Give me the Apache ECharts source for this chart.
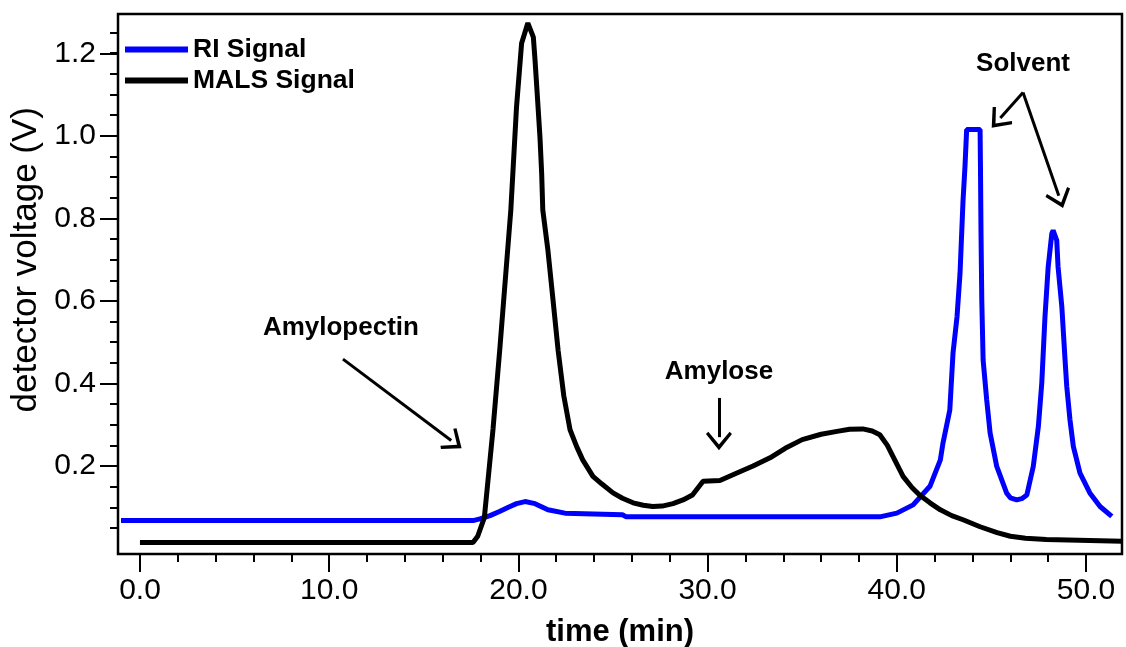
<!DOCTYPE html>
<html>
<head>
<meta charset="utf-8">
<script src="https://cdn.jsdelivr.net/npm/echarts@6/dist/echarts.min.js"></script>
<style>
  html, body { margin: 0; padding: 0; background: #fff; }
  #chart { width: 1126px; height: 647px; }
</style>
</head>
<body>
<div id="chart"></div>
<script>
// RI signal (blue)
var riTime = [-1.0, 17.6, 17.97, 18.5, 19.0, 19.5, 19.9, 20.35, 20.88, 21.56, 22.46, 25.5, 25.7, 39.1, 40.0, 40.86,
  41.75, 42.3, 42.44, 42.8, 42.97, 43.18, 43.34, 43.5, 43.6, 43.69, 44.4, 44.42, 44.45, 44.49, 44.56, 44.75, 44.93,
  45.28, 45.8, 46.0, 46.34, 46.6, 46.87, 47.21, 47.48, 47.66, 47.83, 48.0, 48.19, 48.26, 48.45, 48.52, 48.72, 48.89, 48.98,
  49.15, 49.33, 49.68, 50.2, 50.74, 51.36];
var riSignal = [0.068, 0.068, 0.072, 0.08, 0.09, 0.101, 0.109, 0.114, 0.109, 0.094, 0.086, 0.082, 0.077, 0.077, 0.086, 0.106,
  0.151, 0.215, 0.256, 0.336, 0.474, 0.561, 0.667, 0.844, 0.924, 1.015, 1.015, 0.925, 0.76, 0.602, 0.457, 0.36, 0.28,
  0.199, 0.135, 0.123, 0.118, 0.121, 0.13, 0.199, 0.296, 0.401, 0.562, 0.683, 0.763, 0.771, 0.747, 0.683, 0.586, 0.457, 0.393,
  0.312, 0.247, 0.183, 0.135, 0.102, 0.078];

// MALS signal (black)
var malsTime = [0.0, 17.6, 17.85, 18.2, 18.66, 19.03, 19.6, 19.9, 20.17, 20.5, 20.79, 20.88, 21.0, 21.14, 21.23, 21.29,
  21.56, 21.83, 22.1, 22.4, 22.73, 23.08, 23.4, 23.94, 24.4, 25.0, 25.5, 26.06, 26.6, 27.1, 27.6, 28.17, 28.7, 29.2, 29.76,
  30.65, 31.55, 32.4, 33.3, 34.1, 35.0, 36.0, 36.84, 37.5, 38.2, 38.7, 39.1, 39.5, 39.8, 40.33, 40.8, 41.2, 41.75,
  42.3, 42.9, 43.5, 44.4, 45.3, 46.0, 46.8, 47.9, 51.9];
var malsSignal = [0.015, 0.015, 0.03, 0.075, 0.29, 0.49, 0.82, 1.069, 1.224, 1.273, 1.239, 1.183, 1.098, 0.997, 0.909, 0.82,
  0.723, 0.602, 0.48, 0.37, 0.288, 0.247, 0.215, 0.175, 0.157, 0.135, 0.122, 0.111, 0.105, 0.102, 0.103, 0.109, 0.118, 0.13, 0.163,
  0.165, 0.183, 0.2, 0.22, 0.243, 0.264, 0.277, 0.284, 0.289, 0.29, 0.285, 0.276, 0.25, 0.223, 0.175, 0.148, 0.13, 0.111,
  0.094, 0.08, 0.07, 0.053, 0.039, 0.03, 0.025, 0.022, 0.018];

// annotations
var noteText = ['Amylopectin', 'Amylose', 'Solvent'];
var noteX = [10.62, 30.6, 46.67];
var noteY = [0.534, 0.428, 1.175];
// arrows: [x0, y0, x1, y1]
var arrows = [
  [10.73, 0.459, 16.45, 0.262],
  [30.6, 0.365, 30.6, 0.27],
  [46.67, 1.105, 45.47, 1.043],
  [46.67, 1.105, 48.56, 0.855]
];

var xMin = -1.16, xMax = 51.9;
var yMin = -0.013, yMax = 1.295;

function pairs(xs, ys) {
  return xs.map(function (x, i) { return [x, ys[i]]; });
}

var font = 'Liberation Sans, Arial, sans-serif';
// open arrow head, tip at top; the tiny second piece only squares the bounding box
var chevron = 'path://M5,0 L10,6.2 L9.1,7.1 L5,2.2 L0.9,7.1 L0,6.2 Z M5,10 L5.01,10 L5,10.01 Z';
var tickStyle = { color: '#000', width: 2 };

var chart = echarts.init(document.getElementById('chart'));
var option = {
  animation: false,
  textStyle: { fontFamily: font },
  grid: [
    { left: 118, right: 4, top: 14, bottom: 93, show: true, borderColor: '#000', borderWidth: 2.5, outerBoundsMode: 'none' },
    { left: 140, right: 40, top: 14, bottom: 93, outerBoundsMode: 'none' },
    { left: 118, right: 4, top: 53.3, bottom: 180.9, outerBoundsMode: 'none' },
    { left: 118, right: 4, top: 32.6, bottom: 119, outerBoundsMode: 'none' }
  ],
  legend: {
    data: ['RI Signal', 'MALS Signal'],
    orient: 'vertical',
    left: 125,
    top: 36,
    padding: 0,
    itemWidth: 63,
    itemHeight: 6,
    itemGap: 4,
    icon: 'rect',
    textStyle: { fontFamily: font, fontSize: 26.5, fontWeight: 'bold', color: '#000', lineHeight: 26 }
  },
  xAxis: [
    {
      gridIndex: 0, type: 'value', min: xMin, max: xMax,
      axisLine: { show: false }, axisTick: { show: false }, axisLabel: { show: false }, splitLine: { show: false },
      name: 'time (min)', nameLocation: 'middle', nameGap: 63,
      nameTextStyle: { fontFamily: font, fontSize: 31, fontWeight: 'bold', color: '#000' }
    },
    {
      gridIndex: 1, type: 'value', min: 0, max: 50, interval: 10,
      axisLine: { show: false },
      axisTick: { show: true, inside: false, length: 18, lineStyle: tickStyle },
      minorTick: { show: true, splitNumber: 5, length: 8, lineStyle: tickStyle },
      axisLabel: { fontFamily: font, fontSize: 30, color: '#000', margin: 22, formatter: function (v) { return v.toFixed(1); } },
      splitLine: { show: false }, minorSplitLine: { show: false }
    },
    { gridIndex: 2, type: 'value', show: false },
    { gridIndex: 3, type: 'value', show: false }
  ],
  yAxis: [
    {
      gridIndex: 0, type: 'value', min: yMin, max: yMax,
      axisLine: { show: false }, axisTick: { show: false }, axisLabel: { show: false }, splitLine: { show: false }
    },
    { gridIndex: 1, type: 'value', show: false },
    {
      gridIndex: 2, type: 'value', min: 0.2, max: 1.2, interval: 0.2,
      axisLine: { show: false },
      axisTick: { show: true, inside: false, length: 18, lineStyle: tickStyle },
      axisLabel: { fontFamily: font, fontSize: 30, color: '#000', margin: 22, formatter: function (v) { return v.toFixed(1); } },
      splitLine: { show: false },
      name: 'detector voltage (V)', nameLocation: 'middle', nameGap: 72,
      nameTextStyle: { fontFamily: font, fontSize: 35, color: '#000' }
    },
    {
      gridIndex: 3, type: 'value', min: 0.05, max: 1.25, interval: 0.05,
      axisLine: { show: false },
      axisTick: { show: true, inside: false, length: 8, lineStyle: tickStyle },
      axisLabel: { show: false },
      splitLine: { show: false }
    }
  ],
  series: [
    {
      name: 'RI Signal', type: 'line', xAxisIndex: 0, yAxisIndex: 0,
      data: pairs(riTime, riSignal),
      symbol: 'none', color: '#0000ff',
      lineStyle: { color: '#0000ff', width: 5 }
    },
    {
      name: 'MALS Signal', type: 'line', xAxisIndex: 0, yAxisIndex: 0,
      data: pairs(malsTime, malsSignal),
      symbol: 'none', color: '#000',
      lineStyle: { color: '#000', width: 5 },
      markLine: {
        silent: true,
        symbol: ['none', chevron],
        symbolSize: 26,
        lineStyle: { color: '#000', width: 3, type: 'solid' },
        label: { show: false },
        data: arrows.map(function (a) {
          return [{ coord: [a[0], a[1]] }, { coord: [a[2], a[3]] }];
        })
      },
      markPoint: {
        silent: true,
        symbol: 'rect',
        symbolSize: 1,
        itemStyle: { color: 'rgba(0,0,0,0)' },
        label: {
          show: true, position: 'inside', color: '#000',
          fontFamily: font, fontSize: 26, fontWeight: 'bold',
          formatter: function (p) { return p.name; }
        },
        data: noteText.map(function (t, i) {
          return { name: t, coord: [noteX[i], noteY[i]] };
        })
      }
    }
  ]
};
chart.setOption(option);
</script>
</body>
</html>
